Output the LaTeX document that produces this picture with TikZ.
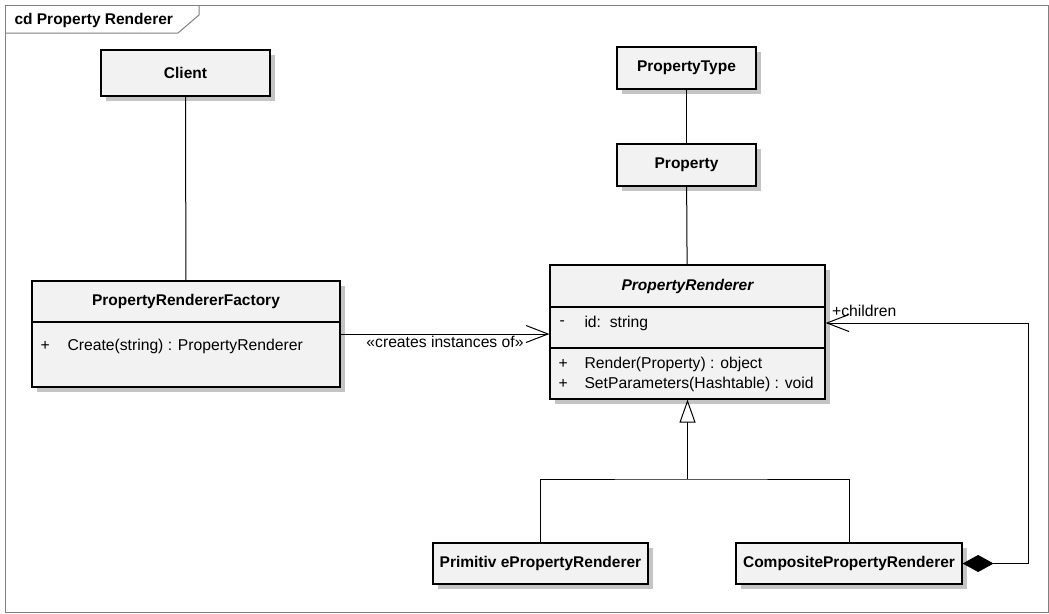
\documentclass[tikz,border=0pt]{standalone}
\usepackage{fontspec}
\setmainfont{Liberation Sans}
\usetikzlibrary{arrows.meta,shadows}
\definecolor{boxfill}{HTML}{F2F2F2}
\definecolor{shadowgray}{HTML}{C4C4C4}
\definecolor{framegray}{HTML}{808080}

\begin{document}
\begin{tikzpicture}[x=1pt, y=-1pt, line width=1pt,
  font=\fontsize{15.7}{18}\selectfont,
  cls/.style={draw, line width=1.2pt, fill=boxfill, inner sep=0pt,
    drop shadow={shadow xshift=5pt, shadow yshift=-5pt, fill=shadowgray, opacity=1}},
  bold/.style={font=\fontsize{15.5}{18}\selectfont\bfseries},
  bolditalic/.style={font=\fontsize{15.5}{18}\selectfont\bfseries\itshape},
  txt/.style={anchor=west, inner sep=0pt},
  open arrow/.style={-{Straight Barb[length=22pt, width=17pt, line width=1pt]}}]
  \useasboundingbox (0,0) rectangle (1049,613);
  \draw[framegray] (5.5,5.5) rectangle (1048.5,612);
  \draw[framegray] (5.5,33) -- (178,33) -- (199,15) -- (199,5.5);
  \node[txt, bold] (title) at (14,20) {cd Property Renderer};

  \node[cls, bold, minimum width=169, minimum height=46] (client) at (185.5,73) {Client};
  \node[cls, bold, minimum width=139, minimum height=42] (ptype) at (686.5,68) {PropertyType};
  \node[cls, bold, minimum width=139, minimum height=42] (prop) at (686.5,165) {Property};
  \node[cls, bold, minimum width=215, minimum height=41] (prim) at (540.5,563.5) {Primitiv ePropertyRenderer};
  \node[cls, bold, minimum width=226, minimum height=41] (comp) at (849,563.5) {CompositePropertyRenderer};

  \node[cls, minimum width=308, minimum height=106] (factory) at (186,334) {};
  \draw[line width=1.2pt] (32,322) -- (340,322);
  \node[bold] (factoryname) at (186,301.5) {PropertyRendererFactory};
  \node[txt] (fvis) at (40,346) {+};
  \node[txt] (fcreate) at (67,346) {Create(string) : PropertyRenderer};

  \node[cls, minimum width=275, minimum height=134] (prend) at (687.5,332) {};
  \draw[line width=1.2pt] (550,307) -- (825,307) (550,348) -- (825,348);
  \node[bolditalic] (prendname) at (687.5,286) {PropertyRenderer};
  \node[txt] (avis) at (559,323) {-};
  \node[txt] (aid) at (584,323) {id:\ \ string};
  \node[txt] (rvis) at (558,364) {+};
  \node[txt] (rrender) at (584,364) {Render(Property) : object};
  \node[txt] (svis) at (558,384) {+};
  \node[txt] (sset) at (584,384) {SetParameters(Hashtable) : void};

  \draw (client) -- (factory);
  \draw (ptype) -- (prop);
  \draw (prop) -- (prend);
  \draw[open arrow] (factory.east) -- (factory.east -| prend.west)
    node[midway, below=1pt, inner sep=1pt] (creates) {«creates instances of»};

  \coordinate (junc) at (687.5,479);
  \draw (prim.north) |- (junc) -| (comp.north);
  \draw[-{Triangle[open, fill=white, length=23pt, width=16pt, line width=1pt]}] (junc) -- (prend.south);

  \coordinate (turn) at (1028,323);
  \draw[{Diamond[length=31pt, width=17pt]}-{Straight Barb[length=22pt, width=17pt, line width=1pt]}]
    (comp.east) -| (turn) -- (turn -| prend.east)
    node[pos=1, anchor=south west, xshift=6pt, yshift=6pt, inner sep=0pt] (children) {+children};
\end{tikzpicture}
\end{document}
